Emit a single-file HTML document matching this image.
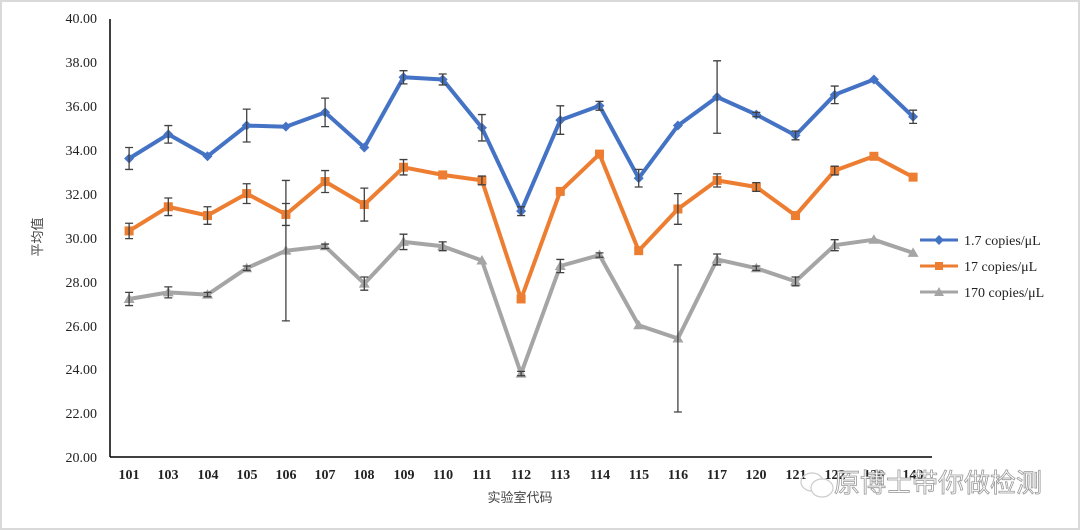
<!DOCTYPE html>
<html><head><meta charset="utf-8"><style>
html,body{margin:0;padding:0;background:#fff;}
svg{display:block;}
.t{font-family:"Liberation Serif","Noto Serif CJK SC",serif;font-size:14px;fill:#222;}
.c{font-family:"Liberation Sans","Noto Sans CJK SC",sans-serif;font-size:13px;fill:#444;}
</style></head><body>
<svg id="s" width="1080" height="530" xmlns="http://www.w3.org/2000/svg">
<rect x="1" y="1" width="1078" height="528" fill="#fff" stroke="#d9d9d9" stroke-width="2"/>
<g class="t" text-anchor="end">
<text x="97" y="23">40.00</text><text x="97" y="67">38.00</text><text x="97" y="111">36.00</text>
<text x="97" y="155">34.00</text><text x="97" y="199">32.00</text><text x="97" y="243">30.00</text>
<text x="97" y="287">28.00</text><text x="97" y="331">26.00</text><text x="97" y="374">24.00</text>
<text x="97" y="418">22.00</text><text x="97" y="462">20.00</text>
</g>
<line x1="110" y1="19" x2="110" y2="457" stroke="#000" stroke-width="1.5"/>
<line x1="110" y1="457" x2="932" y2="457" stroke="#000" stroke-width="1.5"/>
<g class="t" text-anchor="middle" font-weight="bold">
<text x="129" y="479">101</text><text x="168" y="479">103</text><text x="208" y="479">104</text>
<text x="247" y="479">105</text><text x="286" y="479">106</text><text x="325" y="479">107</text>
<text x="364" y="479">108</text><text x="404" y="479">109</text><text x="443" y="479">110</text>
<text x="482" y="479">111</text><text x="521" y="479">112</text><text x="560" y="479">113</text>
<text x="600" y="479">114</text><text x="639" y="479">115</text><text x="678" y="479">116</text>
<text x="717" y="479">117</text><text x="756" y="479">120</text><text x="796" y="479">121</text>
<text x="835" y="479">122</text><text x="874" y="479">130</text><text x="913" y="479">140</text>
</g>
<text class="c" x="520" y="502" text-anchor="middle">实验室代码</text>
<text class="c" x="42" y="237" text-anchor="middle" transform="rotate(-90 42 237)">平均值</text>
<g id="d"></g>
<g class="t" font-size="13">
<line x1="920" y1="240" x2="958" y2="240" stroke="#4472c4" stroke-width="3"/>
<path d="M939 235 L944 240 L939 245 L934 240Z" fill="#4472c4"/>
<text x="964" y="245">1.7 copies/μL</text>
<line x1="920" y1="266" x2="958" y2="266" stroke="#ed7d31" stroke-width="3"/>
<rect x="935" y="262" width="8" height="8" fill="#ed7d31"/>
<text x="964" y="271">17 copies/μL</text>
<line x1="920" y1="292" x2="958" y2="292" stroke="#a5a5a5" stroke-width="3"/>
<path d="M939 287 L944 296 L934 296Z" fill="#a5a5a5"/>
<text x="964" y="297">170 copies/μL</text>
</g>
<ellipse cx="812" cy="482" rx="11" ry="9" fill="none" stroke="#ccc" stroke-width="1.2"/>
<ellipse cx="822" cy="488" rx="11" ry="9" fill="#fff" stroke="#ccc" stroke-width="1.2"/>
<text x="834" y="492" font-family="'Noto Sans CJK SC',sans-serif" font-size="26" fill="#fff" stroke="#999" stroke-width="0.8">原博士带你做检测</text>
</svg>
<script>
var B=[33.6,34.7,33.7,35.1,35.05,35.7,34.1,37.3,37.2,35.0,31.2,35.35,36.0,32.7,35.1,36.4,35.6,34.65,36.5,37.2,35.5],
Be=[0.5,0.4,0,0.75,0,0.65,0,0.3,0.25,0.6,0.2,0.65,0.2,0.4,0,1.65,0.1,0.2,0.4,0,0.3],
O=[30.3,31.4,31.0,32.0,31.05,32.55,31.5,33.2,32.85,32.6,27.2,32.1,33.8,29.4,31.3,32.6,32.3,31.0,33.05,33.7,32.75],
Oe=[0.35,0.4,0.4,0.45,0.5,0.5,0.75,0.35,0,0.2,0,0,0,0,0.7,0.3,0.2,0,0.2,0,0],
G=[27.2,27.5,27.4,28.6,29.4,29.6,27.9,29.8,29.6,28.95,23.8,28.7,29.2,26.0,25.4,29.0,28.6,28.0,29.65,29.9,29.3],
Ge=[0.3,0.25,0.1,0.1,3.2,0.1,0.3,0.35,0.2,0,0.1,0.3,0.1,0,3.35,0.25,0.1,0.2,0.25,0,0];
function X(i){return 129.1+i*39.2}function Y(v){return 18+(40-v)*21.95}
var h='';
function ser(d,e,c,m){
 var p=d.map(function(v,i){return X(i).toFixed(1)+','+Y(v).toFixed(1)}).join(' ');
 h+='<polyline points="'+p+'" fill="none" stroke="'+c+'" stroke-width="4" stroke-linejoin="round"/>';
 d.forEach(function(v,i){var x=X(i),y=Y(v);
  if(m==0)h+='<path d="M'+x+' '+(y-5)+' L'+(x+5)+' '+y+' L'+x+' '+(y+5)+' L'+(x-5)+' '+y+'Z" fill="'+c+'"/>';
  else if(m==1)h+='<rect x="'+(x-4.5)+'" y="'+(y-4.5)+'" width="9" height="9" fill="'+c+'"/>';
  else h+='<path d="M'+x+' '+(y-5.5)+' L'+(x+5.5)+' '+(y+4)+' L'+(x-5.5)+' '+(y+4)+'Z" fill="'+c+'"/>';
 });
 d.forEach(function(v,i){if(!e[i])return;var x=X(i),a=Y(v+e[i]),b=Y(v-e[i]);
  h+='<path d="M'+x+' '+a+' V'+b+' M'+(x-4)+' '+a+' H'+(x+4)+' M'+(x-4)+' '+b+' H'+(x+4)+'" stroke="#404040" stroke-width="1.3" fill="none"/>';});
}
ser(G,Ge,'#a5a5a5',2);ser(O,Oe,'#ed7d31',1);ser(B,Be,'#4472c4',0);
document.getElementById('d').innerHTML=h;
</script>
</body></html>
